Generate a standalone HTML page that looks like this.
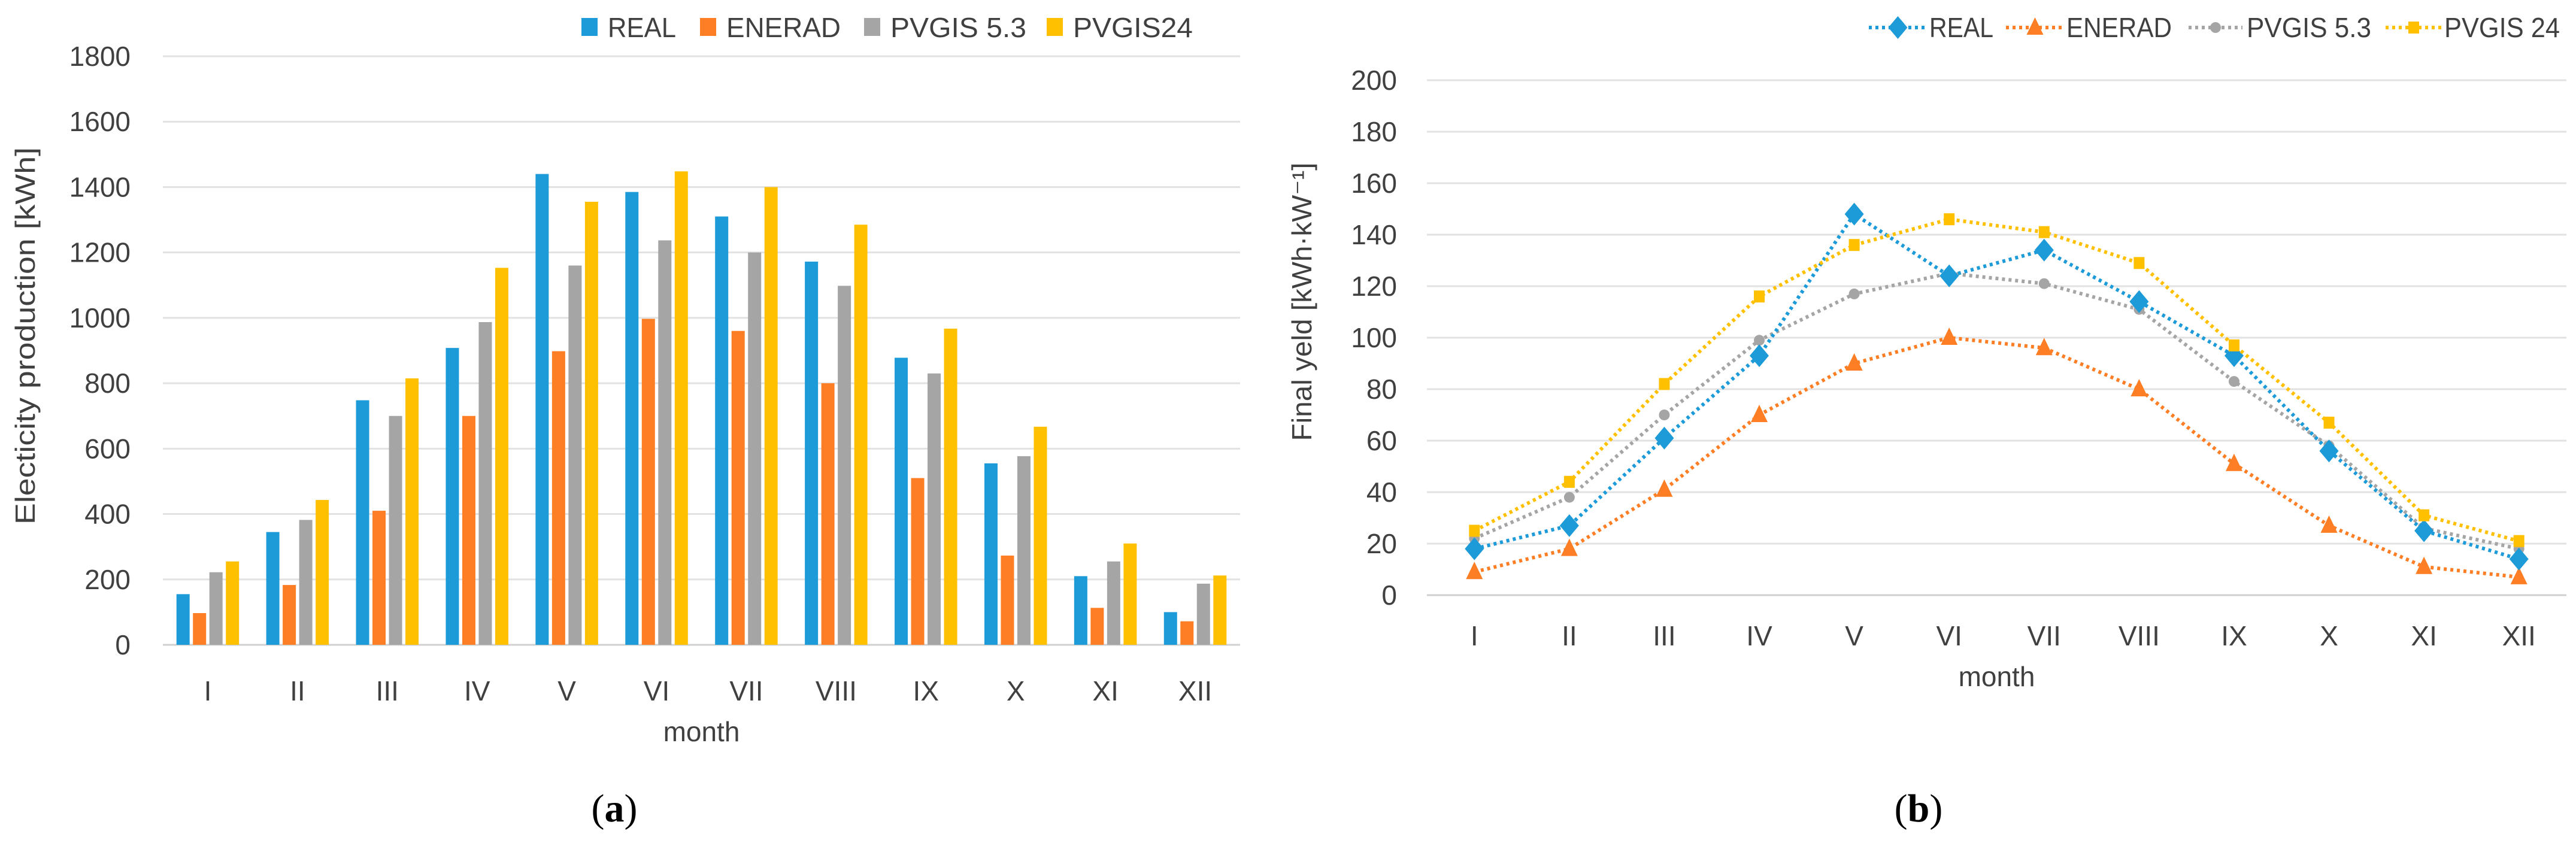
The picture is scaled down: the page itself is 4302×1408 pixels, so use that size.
<!DOCTYPE html>
<html><head><meta charset="utf-8"><style>
html,body{margin:0;padding:0;background:#fff;}
svg{display:block;}
text{font-family:"Liberation Sans Narrow","Liberation Sans",sans-serif;fill:#404040;}
</style></head><body>
<svg id="root" width="4302" height="1408" viewBox="0 0 4302 1408">
<g id="chartA"></g>
<g id="chartB"></g>
<text x="1026" y="1372" font-size="66" text-anchor="middle" style="font-family:'Liberation Serif',serif;fill:#000">(<tspan font-weight="bold">a</tspan>)</text>
<text x="3204" y="1372" font-size="66" text-anchor="middle" style="font-family:'Liberation Serif',serif;fill:#000">(<tspan font-weight="bold">b</tspan>)</text>
</svg>
<script>
const months=["I","II","III","IV","V","VI","VII","VIII","IX","X","XI","XII"];
const seriesNames=["REAL","ENERAD","PVGIS 5.3","PVGIS24"];
const prodReal=[155,345,748,908,1440,1385,1310,1172,878,555,210,100];
const prodEnerad=[97,183,410,700,898,997,960,800,510,273,113,72];
const prodPv53=[222,382,700,987,1160,1237,1200,1098,830,577,255,187];
const prodPv24=[255,443,815,1153,1355,1448,1400,1285,967,667,310,212];
const prodTicks=[0,200,400,600,800,1000,1200,1400,1600,1800];
const lineNames=["REAL","ENERAD","PVGIS 5.3","PVGIS 24"];
const yieldReal=[18,27,61,93,148,124,134,114,93,56,25,14];
const yieldEnerad=[9,18,41,70,90,100,96,80,51,27,11,7];
const yieldPv53=[22,38,70,99,117,125,121,111,83,58,26,18];
const yieldPv24=[25,44,82,116,136,146,141,129,97,67,31,21];
const yieldTicks=[0,20,40,60,80,100,120,140,160,180,200];
const colors=["#1d9bd8","#fd7e24","#a5a5a5","#ffc000"];
const NS="http://www.w3.org/2000/svg";
function mk(parent,tag,attrs,txt){const e=document.createElementNS(NS,tag);for(const k in attrs)e.setAttribute(k,attrs[k]);if(txt!==undefined)e.textContent=txt;parent.appendChild(e);return e;}

// ---- Chart A ----
(function(){
const g=document.getElementById('chartA');
const x0=272,x1=2071,yTop=94,yBot=1077,max=1800;
const y=v=>yBot-(v/max)*(yBot-yTop);
const cw=(x1-x0)/12;
prodTicks.forEach(t=>{
 const l=mk(g,'line',{x1:x0,x2:x1,y1:y(t),y2:y(t),stroke:t===0?'#d0d0d0':'#e2e2e2','stroke-width':3});
 
 
 const tx=mk(g,'text',{x:218,y:y(t)+16,'font-size':46,'text-anchor':'end'},t);
 
 
});
const data=[prodReal,prodEnerad,prodPv53,prodPv24];
const bw=22,step=27.5;
months.forEach((m,i)=>{
 const cx=x0+cw*(i+0.5);
 data.forEach((s,j)=>{
  const bx=cx-2*step+j*step+(step-bw)/2;
  const r=mk(g,'rect',{x:bx,y:y(s[i]),width:bw,height:yBot-y(s[i]),fill:colors[j]});
  
  
 });
 const tx=mk(g,'text',{x:cx,y:1170,'font-size':46,'text-anchor':'middle'},m);
 
 
});
const xt=mk(g,'text',{x:(x0+x1)/2,y:1238,'font-size':46,'text-anchor':'middle'},'month');


const yt=mk(g,'text',{x:0,y:0,'font-size':46,'text-anchor':'middle',textLength:630,lengthAdjust:'spacingAndGlyphs',transform:'translate(58,561) rotate(-90)',style:'font-family:"Liberation Sans",sans-serif'},'Electicity production  [kWh]');


const lx=[971,1169,1443,1748];
const lw=[114,191,227,200];
seriesNames.forEach((n,j)=>{
 const lg=mk(g,'g',{});
 
 
 mk(lg,'rect',{x:lx[j],y:30,width:27,height:30,fill:colors[j]});
 mk(lg,'text',{x:lx[j]+44,y:62,'font-size':46,textLength:lw[j],lengthAdjust:'spacingAndGlyphs'},n);
});
})();

// ---- Chart B ----
(function(){
const g=document.getElementById('chartB');
const x0=2383,x1=4286,yTop=134,yBot=994,max=200;
const y=v=>yBot-(v/max)*(yBot-yTop);
const cw=(x1-x0)/12;
const xc=i=>x0+cw*(i+0.5);
yieldTicks.forEach(t=>{
 const l=mk(g,'line',{x1:x0,x2:x1,y1:y(t),y2:y(t),stroke:t===0?'#d0d0d0':'#e2e2e2','stroke-width':3});
 
 
 const tx=mk(g,'text',{x:2333,y:y(t)+16,'font-size':46,'text-anchor':'end'},t);
 
 
});
months.forEach((m,i)=>{
 const tx=mk(g,'text',{x:xc(i),y:1078,'font-size':46,'text-anchor':'middle'},m);
 
 
});
const xt=mk(g,'text',{x:(x0+x1)/2,y:1146,'font-size':46,'text-anchor':'middle'},'month');


const yt=mk(g,'text',{x:0,y:0,'font-size':46,'text-anchor':'middle',textLength:465,lengthAdjust:'spacingAndGlyphs',transform:'translate(2190,504) rotate(-90)',style:'font-family:"Liberation Sans",sans-serif'},'Final yeld [kWh·kW⁻¹]');


function marker(p,kind,cx,cy,c){
 if(kind===0)return mk(p,'polygon',{points:`${cx},${cy-19} ${cx+16},${cy} ${cx},${cy+19} ${cx-16},${cy}`,fill:c});
 if(kind===1)return mk(p,'polygon',{points:`${cx},${cy-17} ${cx+14},${cy+12} ${cx-14},${cy+12}`,fill:c});
 if(kind===2)return mk(p,'circle',{cx:cx,cy:cy,r:9,fill:c});
 return mk(p,'rect',{x:cx-9,y:cy-10,width:18,height:20,fill:c});
}
const data=[yieldReal,yieldEnerad,yieldPv53,yieldPv24];
const order=[1,2,0,3];
order.forEach(j=>{
 const s=data[j];
 const sg=mk(g,'g',{});
 
 
 const pts=s.map((v,i)=>xc(i)+','+y(v)).join(' ');
 mk(sg,'polyline',{points:pts,fill:'none',stroke:colors[j],'stroke-width':6,'stroke-dasharray':'5 6'});
 s.forEach((v,i)=>{
  const mm=marker(sg,j,xc(i),y(v),colors[j]);
  
  
 });
});
const ls=[3121,3350,3655,3984],le=[3218,3447,3745,4078],lt=[3222,3451,3752,4082];
const lw=[107,176,208,193];
lineNames.forEach((n,j)=>{
 const lg=mk(g,'g',{});
 
 
 mk(lg,'line',{x1:ls[j],x2:le[j],y1:46,y2:46,stroke:colors[j],'stroke-width':6,'stroke-dasharray':'5 6'});
 marker(lg,j,(ls[j]+le[j])/2,46,colors[j]);
 mk(lg,'text',{x:lt[j],y:62,'font-size':46,textLength:lw[j],lengthAdjust:'spacingAndGlyphs'},n);
});
})();
</script>
</body></html>
